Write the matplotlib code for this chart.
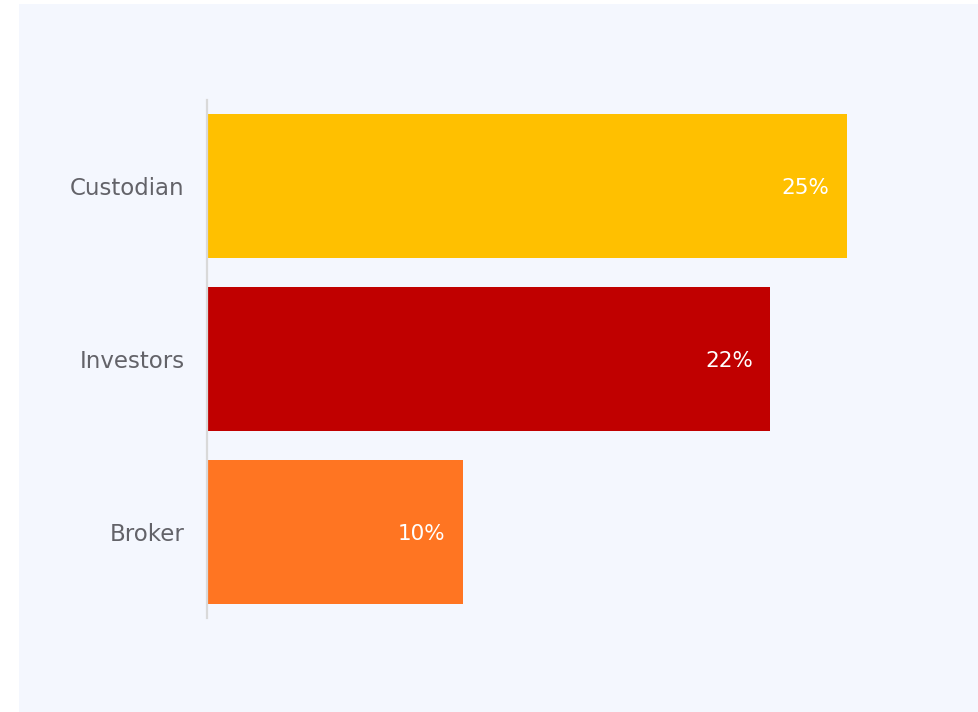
import matplotlib.pyplot as plt
from matplotlib.patches import Rectangle

# Chart data
categories = ['Custodian', 'Investors', 'Broker']
values = [25, 22, 10]
colors = ['#FFC000', '#C00000', '#FF7522']

W, H = 979, 712
fig = plt.figure(figsize=(W / 100, H / 100), dpi=100)
fig.patch.set_facecolor('white')

# light panel behind the chart
fig.patches.append(Rectangle((19 / W, 0), 1 - 19 / W, 1 - 4 / H,
                             transform=fig.transFigure, facecolor='#F4F7FE',
                             edgecolor='none', zorder=-10))

ax = fig.add_axes([207 / W, 1 - 618 / H, 1 - 207 / W, 518 / H])
ax.set_facecolor('none')

y = list(range(len(categories)))
ax.barh(y, values, height=0.835, color=colors)
ax.set_ylim(2.5, -0.5)
ax.set_xlim(0, (W - 207) / 25.6)

for yi, v in zip(y, values):
    ax.annotate(f'{v}%', xy=(v, yi), xytext=(-12.5, 0), textcoords='offset points',
                ha='right', va='center_baseline', color='white', fontsize=15.5,
                family='DejaVu Sans')

ax.set_yticks(y)
ax.set_yticklabels(categories, fontsize=16.5, color='#636369', family='DejaVu Sans')
ax.tick_params(axis='y', length=0, pad=16)
ax.set_xticks([])

for s in ['top', 'right', 'bottom']:
    ax.spines[s].set_visible(False)
ax.spines['left'].set_color('#D9D9D9')
ax.spines['left'].set_linewidth(1.6)

fig.savefig('out.png', dpi=100)
